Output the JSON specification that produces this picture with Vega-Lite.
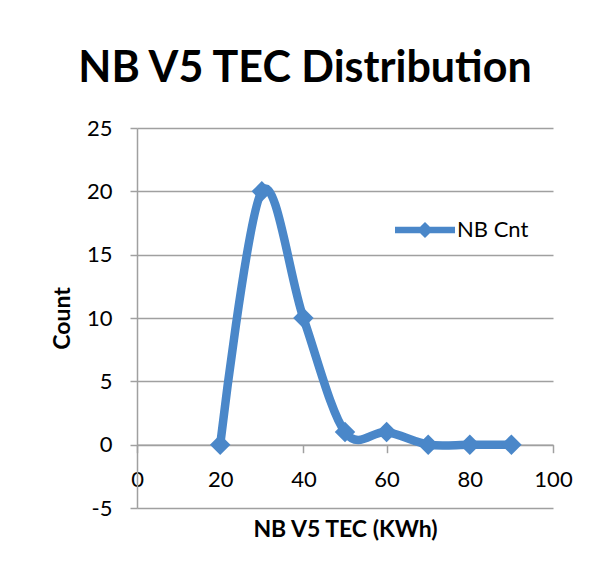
{
  "$schema": "https://vega.github.io/schema/vega-lite/v6.json",
  "width": 416,
  "height": 380,
  "padding": {"left": 137, "top": 128, "right": 46, "bottom": 70},
  "autosize": {"type": "none"},
  "background": "white",
  "title": {
    "text": "NB V5 TEC Distribution",
    "font": "Lato",
    "fontWeight": "bold",
    "fontSize": 43,
    "color": "#000000",
    "anchor": "middle",
    "frame": "group",
    "baseline": "alphabetic",
    "offset": 46,
    "dy": 54,
    "dx": -40
  },
  "config": {
    "view": {"stroke": null},
    "font": "Lato"
  },
  "data": {
    "values": [
      {"tec": 20, "count": 0, "series": "NB Cnt"},
      {"tec": 30, "count": 20, "series": "NB Cnt"},
      {"tec": 40, "count": 10, "series": "NB Cnt"},
      {"tec": 50, "count": 1, "series": "NB Cnt"},
      {"tec": 60, "count": 1, "series": "NB Cnt"},
      {"tec": 70, "count": 0, "series": "NB Cnt"},
      {"tec": 80, "count": 0, "series": "NB Cnt"},
      {"tec": 90, "count": 0, "series": "NB Cnt"}
    ]
  },
  "encoding": {
    "x": {
      "field": "tec",
      "type": "quantitative",
      "scale": {"domain": [0, 100], "nice": false, "zero": false},
      "axis": {
        "title": "NB V5 TEC (KWh)",
        "titleFont": "Lato",
        "titleFontWeight": "bold",
        "titleFontSize": 23,
        "titleColor": "#000000",
        "titlePadding": 28,
        "values": [0, 20, 40, 60, 80, 100],
        "labelFont": "Lato",
        "labelFontSize": 22,
        "labelColor": "#000000",
        "labelPadding": 17,
        "labelFlush": false,
        "domainColor": "#a0a0a0",
        "domainWidth": 1.5,
        "tickColor": "#a0a0a0",
        "tickWidth": 1.5,
        "tickSize": 8,
        "grid": false,
        "offset": -63.3
      }
    },
    "y": {
      "field": "count",
      "type": "quantitative",
      "scale": {"domain": [-5, 25], "nice": false, "zero": false},
      "axis": {
        "title": "Count",
        "titleFont": "Lato",
        "titleFontWeight": "bold",
        "titleFontSize": 23,
        "titleColor": "#000000",
        "titlePadding": 12,
        "values": [-5, 0, 5, 10, 15, 20, 25],
        "labelExpr": "datum.value < 0 ? '-' + abs(datum.value) : '' + datum.value",
        "labelFont": "Lato",
        "labelFontSize": 22,
        "labelColor": "#000000",
        "labelPadding": 18,
        "labelFlush": false,
        "domainColor": "#a0a0a0",
        "domainWidth": 1.5,
        "tickColor": "#a0a0a0",
        "tickWidth": 1.5,
        "tickSize": 7,
        "grid": true,
        "gridColor": "#a0a0a0",
        "gridWidth": 1.5
      }
    }
  },
  "layer": [
    {
      "mark": {"type": "line", "interpolate": "cardinal", "strokeWidth": 8.5, "color": "#4a87c9", "strokeCap": "round", "strokeJoin": "round"},
      "encoding": {}
    },
    {
      "mark": {"type": "point", "shape": "diamond", "filled": true, "size": 420, "opacity": 1},
      "encoding": {
        "color": {
          "field": "series",
          "type": "nominal",
          "scale": {"range": ["#4a87c9"]},
          "legend": {
            "title": null,
            "orient": "none",
            "legendX": 258,
            "legendY": 72,
            "labelFont": "Lato",
            "labelFontSize": 22,
            "labelColor": "#000000",
            "labelOffset": 2,
            "symbolType": "M-1,-0.11 H1 V0.11 H-1 Z M0,-0.27 L0.27,0 L0,0.27 L-0.27,0 Z",
            "symbolSize": 3600,
            "symbolFillColor": "#4a87c9",
            "symbolStrokeWidth": 0,
            "symbolOpacity": 1
          }
        }
      }
    }
  ]
}
